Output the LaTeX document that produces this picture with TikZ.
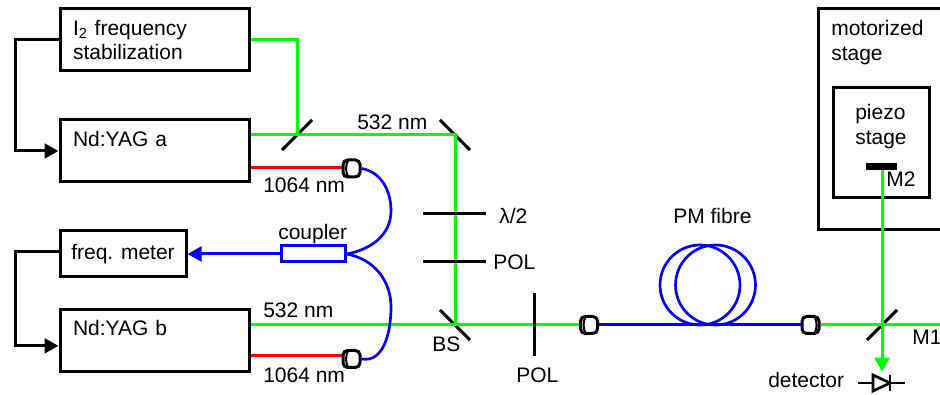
\documentclass[tikz,border=0pt]{standalone}
\usepackage{fontspec}
\setmainfont{Liberation Sans}
\usetikzlibrary{arrows.meta}
\definecolor{beamgreen}{RGB}{0,255,0}
\definecolor{beamred}{RGB}{255,0,0}
\definecolor{fibreblue}{RGB}{0,0,255}
\tikzset{
  every node/.append style={font=\fontsize{15.75}{18.4}\selectfont},
  devicebox/.style={draw,line width=2.25pt,inner xsep=9.75pt,inner ysep=0pt,minimum width=141.75pt,minimum height=46.5pt,align=left},
  stagebox/.style={draw,line width=2.25pt,inner sep=0pt},
  labeltext/.style={inner sep=0pt,anchor=base west},
  stagetext/.style={inner sep=0pt,anchor=north west,align=left},
  mirror/.style={draw,line width=2.25pt,inner sep=0pt,minimum width=32pt,minimum height=0pt,rotate=#1},
  plate/.style={draw,line width=2.25pt,inner sep=0pt,minimum width=47pt,minimum height=0pt,rotate=#1},
  fibreport/.style 2 args={draw,fill=white,line width=2.25pt,rounded corners=3.5pt,inner sep=0pt,minimum size=12.75pt,
    path picture={\draw[line width=1.5pt] ([xshift=#1]path picture bounding box.north) to[bend right=#2] ([xshift=#1]path picture bounding box.south);}},
  loopcoil/.style={circle,draw=fibreblue,line width=2pt,inner sep=0pt,minimum size=60pt},
  beam/.style={draw=beamgreen,line width=2.25pt},
  redbeam/.style={draw=beamred,line width=2.25pt},
  fibre/.style={draw=fibreblue,line width=2.25pt},
  fibrecurve/.style={draw=fibreblue,line width=2pt},
  feedback/.style={draw=black,line width=2.25pt},
  bigtip/.style={-{Triangle[length=10.5pt,width=11pt]}}
}
\begin{document}
\begin{tikzpicture}[x=0.75pt,y=-0.75pt]
\useasboundingbox (0,0) rectangle (940,395);
\clip (0,0) rectangle (940,395);
\node (stab) [devicebox,text width=122.25pt] at (154.5,40) {I\textsubscript{2} frequency\\stabilization};
\node (yaga) [devicebox,text width=122.25pt] at (154.5,151) {Nd:YAG a\\~};
\node (meter) [devicebox,minimum width=94.5pt,minimum height=34.5pt,inner xsep=0pt] at (123,254) {freq. meter};
\node (yagb) [devicebox,text width=122.25pt] at (154.5,340.5) {Nd:YAG b\\~};
\node (stage) [stagebox,minimum width=106.5pt,minimum height=165.75pt] at (889,119.5) {};
\node (piezo) [stagebox,minimum width=72pt,minimum height=82.5pt] at (881,143) {};
\node (stagelabel) [stagetext] at (831,20) {motorized\\stage};
\node (piezolabel) [stagetext] at (855,104) {piezo\\stage};

\node (mirrorsplit) [mirror=45] at (297,135) {};
\node (mirrorturn) [mirror=-45] at (455,135) {};
\node (bs) [mirror=-45] at (455,325) {};
\node (mone) [mirror=45] at (882,325) {};
\coordinate (raila) at (15,100);
\coordinate (railb) at (15,300);
\coordinate (beamend) at (940,325);
\coordinate (diode) at (882,383);

\draw[beam] (stab.east) -| (mirrorsplit.center);
\draw[beam] (yaga.east |- mirrorsplit) -- (mirrorturn.center) -- (bs.center);
\draw[beam] (yagb.east |- bs) -- (bs.center) -- (590,325);
\draw[redbeam] (yaga.east |- 0,168) -- (350,168);
\draw[redbeam] (yagb.east |- 0,356) -- (350,356);
\draw[feedback,bigtip] (stab.west) -| (raila) |- (yaga.west);
\draw[feedback,bigtip] ([yshift=1.5pt]meter.west) -| (railb) |- ([yshift=-4pt]yagb.west);

\node (lambdaplate) [plate=0] at (454.5,214) {};
\node (polplate) [plate=0] at (454.5,262) {};
\node (polout) [plate=90] at (534,324.5) {};

\node (coupler) [draw=fibreblue,line width=2.25pt,inner sep=0pt,minimum width=48pt,minimum height=12pt] at (313,254) {};
\node (porta) [fibreport={-2.5pt}{25}] at (351.5,168.5) {};
\node (portb) [fibreport={-2.5pt}{25}] at (351.5,359) {};
\node (portc) [fibreport={-2.5pt}{25}] at (589,325) {};
\node (portd) [fibreport={3pt}{-25}] at (810.5,325) {};
\node (loopa) [loopcoil] at (700,285) {};
\node (loopb) [loopcoil] at (715.5,285) {};
\coordinate (benda) at (391,211);
\coordinate (bendb) at (391,307);

\draw[fibrecurve] (porta.east) to[out=-10,in=90] (benda) to[out=-90,in=10] (coupler.east);
\draw[fibrecurve] (coupler.east) to[out=-10,in=90] (bendb) to[out=-90,in=-10] (portb.east);
\draw[fibre,bigtip] (coupler.west) -- (meter.east);
\draw[fibre] (portc.east) -- (portd.west);
\draw[beam] (portd.east) -- (beamend);

\node (mtwo) [fill=black,inner sep=0pt,minimum width=23.25pt,minimum height=5.25pt] at (881.5,166.5) {};
\draw[beam,bigtip] (mtwo.south -| mone) -- ([yshift=8.5pt]diode);

\draw[feedback,line width=2pt] ([xshift=-18pt]diode) -- ([xshift=17pt]diode);
\draw[feedback,line width=2pt,fill=white] ([xshift=-6.75pt,yshift=6pt]diode) -- ([xshift=-6.75pt,yshift=-6pt]diode) -- ([xshift=6pt]diode) -- cycle;
\draw[feedback,line width=2pt] ([xshift=6pt,yshift=6pt]diode) -- ([xshift=6pt,yshift=-6pt]diode);

\node (labela) [labeltext] at (357,130) {532 nm};
\node (labelb) [labeltext] at (263,193) {1064 nm};
\node (labelc) [labeltext] at (263,318) {532 nm};
\node (labeld) [labeltext] at (263,383) {1064 nm};
\node (labelcoupler) [labeltext] at (278,240) {coupler};
\node (labellambda) [labeltext] at (499,224) {λ/2};
\node (labelpol) [labeltext] at (493,270) {POL};
\node (labelbs) [labeltext] at (432,352) {BS};
\node (labelpolout) [labeltext] at (516,383) {POL};
\node (labelfibre) [labeltext] at (673,224) {PM fibre};
\node (labeldetector) [labeltext] at (768,388) {detector};
\node (labelmone) [labeltext] at (912,345) {M1};
\node (labelmtwo) [labeltext] at (886,187) {M2};
\end{tikzpicture}
\end{document}
